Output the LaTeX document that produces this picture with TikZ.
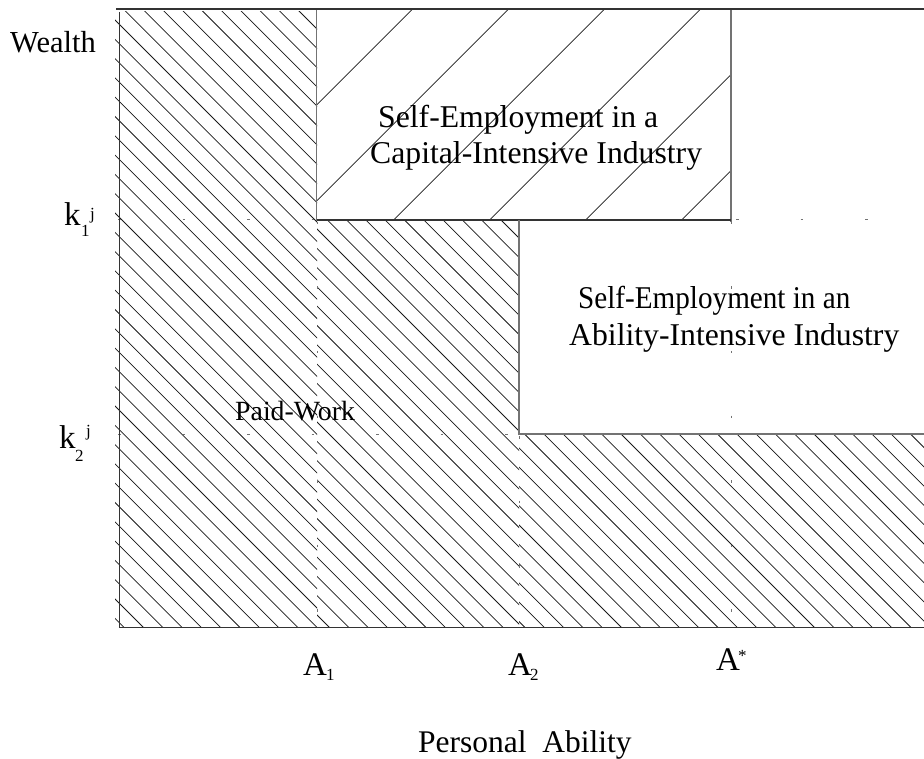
\documentclass[tikz,border=0pt]{standalone}
\usepackage{fontspec}
\usepackage{graphicx}
\setmainfont{Liberation Serif}
\begin{document}
\begin{tikzpicture}[x=1pt,y=-1pt,
  hatch/.style={line width=0.75pt, black!90},
  edge/.style={line width=1.2pt, black!55},
  axis/.style={line width=1.2pt, black!80},
  guide/.style={line width=1pt, black!55, dash pattern=on 2.5pt off 62pt},
  lbl/.style={inner sep=0pt, anchor=base west},
  big/.style={font=\fontsize{31.7}{36}\selectfont},
  mid/.style={font=\fontsize{33}{38}\selectfont},
  tiny/.style={font=\fontsize{17}{20}\selectfont},
]
\useasboundingbox (0,0) rectangle (924,759);
\fill[white] (0,0) rectangle (924,759);

% Paid-work region: three hatched strips, each with its own phase
\begin{scope}
  \clip (115,12) rectangle (317,627.5);
  \foreach \k in {-17,...,27}
    \draw[hatch] (100,{100+1.5+19.3*\k}) -- (340,{340+1.5+19.3*\k});
\end{scope}
\begin{scope}
  \clip (317,220) rectangle (519,627.5);
  \foreach \k in {-17,...,17}
    \draw[hatch] (300,{300+8.5+19.3*\k}) -- (540,{540+8.5+19.3*\k});
\end{scope}
\begin{scope}
  \clip (519,434) rectangle (924,627.5);
  \foreach \k in {-27,...,7}
    \draw[hatch] (500,{500+6+19.3*\k}) -- (940,{940+6+19.3*\k});
\end{scope}

% Capital-intensive box: wide forward hatch
\begin{scope}
  \clip (317,9) rectangle (731,220);
  \foreach \k in {0,...,5}
    \draw[hatch] (300,{421.7+96*\k-300}) -- (760,{421.7+96*\k-760});
\end{scope}

% Threshold guides
\draw[guide] (118,220) -- (317,220);
\draw[guide] (736,220) -- (924,220);
\draw[guide] (118,434) -- (519,434);
\draw[guide] (317,222) -- (317,627.5);
\draw[guide] (731,222) -- (731,627.5);
\draw[guide] (519,436) -- (519,627.5);

% Region borders and axes
\draw[edge] (316.5,9) -- (316.5,221);
\draw[edge] (731,9) -- (731,222);
\draw[axis] (316.5,220) -- (731,220);
\draw[edge] (519,220) -- (519,434) -- (924,434);
\draw[axis] (116,9) -- (924,9);
\draw[axis] (119.5,12) -- (119.5,628);
\draw[axis] (119.5,627.5) -- (924,627.5);

% Region labels
\node[lbl, big] (capA) at (378,127.7) {Self-Employment in a};
\node[lbl, big] (capB) at (370,164) {Capital-Intensive Industry};
\node[lbl, big] (abiA) at (578,309) {\scalebox{0.92}[1]{Self-Employment in an}};
\node[lbl, big] (abiB) at (569,346) {Ability-Intensive Industry};
\node[lbl, font=\fontsize{27.8}{32}\selectfont] (paid) at (235,420.7) {Paid-Work};

% Axis labels
\node[lbl, font=\fontsize{30.5}{36}\selectfont] (wealth) at (10,53) {Wealth};
\node[lbl, font=\fontsize{31.5}{36}\selectfont] (ability) at (418,752.7) {Personal\ \ Ability};

\node[lbl, mid] (k1) at (64,226) {k};
\node[lbl, tiny] (k1s) at (81,236.7) {1};
\node[lbl, tiny] (k1j) at (90,220) {j};
\node[lbl, mid] (k2) at (59,448.3) {k};
\node[lbl, tiny] (k2s) at (75,461.7) {2};
\node[lbl, tiny] (k2j) at (86,436) {j};

\node[lbl, mid] (a1) at (303,675) {A};
\node[lbl, tiny] (a1s) at (326,680) {1};
\node[lbl, mid] (a2) at (508,675) {A};
\node[lbl, tiny] (a2s) at (530,680) {2};
\node[lbl, mid] (as) at (716,670) {A};
\node[lbl, tiny] (ass) at (738,661) {*};
\end{tikzpicture}
\end{document}
